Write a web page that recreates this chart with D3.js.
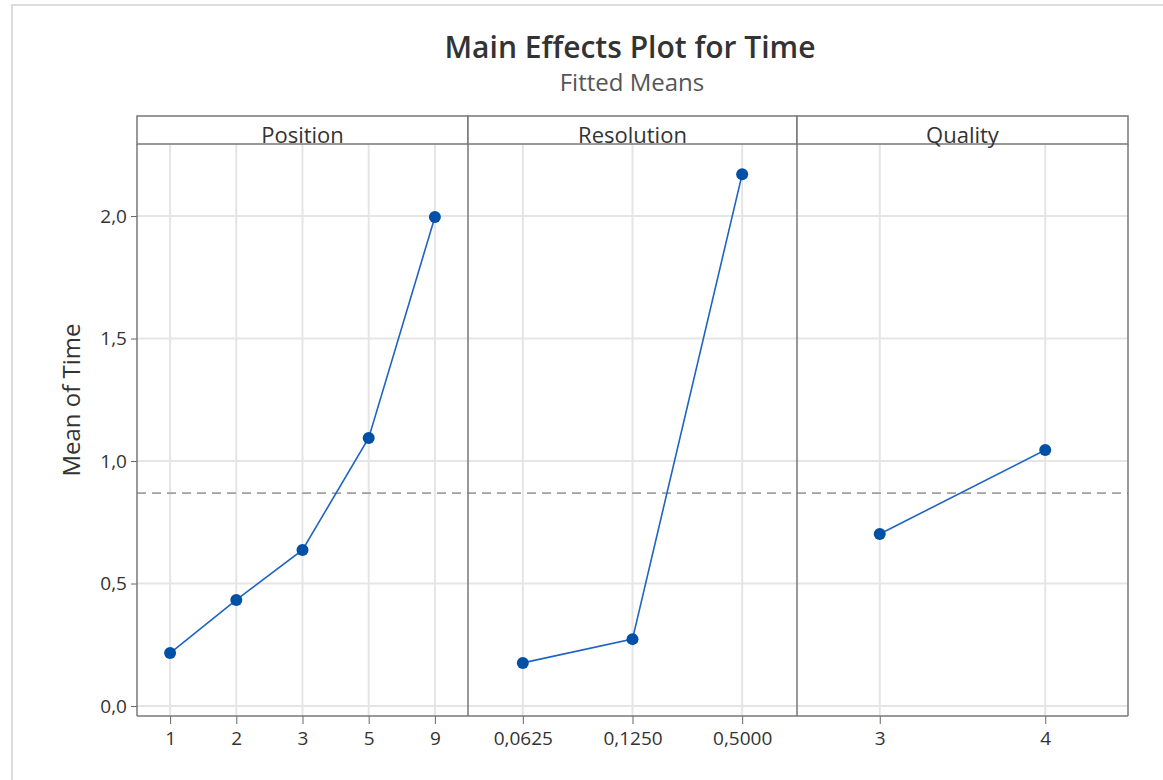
<!DOCTYPE html>
<html>
<head>
<meta charset="utf-8">
<script src="https://cdn.jsdelivr.net/npm/d3@7"></script>
<style>
  body { margin: 0; background: #fff; }
  text { font-family: "Open Sans", "Noto Sans", sans-serif; fill: #333; }
</style>
</head>
<body>
<div id="chart"></div>
<script>
// --- data ---
const factors = ["Position", "Resolution", "Quality"];
const positionLevels = ["1", "2", "3", "5", "9"];
const positionMeans = [0.216, 0.433, 0.637, 1.094, 1.996];
const resolutionLevels = ["0,0625", "0,1250", "0,5000"];
const resolutionMeans = [0.176, 0.273, 2.171];
const qualityLevels = ["3", "4"];
const qualityMeans = [0.702, 1.045];
const grandMean = 0.869;
const yTicks = [0, 0.5, 1.0, 1.5, 2.0];

const panels = [
  { name: factors[0], levels: positionLevels, means: positionMeans },
  { name: factors[1], levels: resolutionLevels, means: resolutionMeans },
  { name: factors[2], levels: qualityLevels, means: qualityMeans }
];

const W = 1163, H = 780;
const plot = { left: 137, right: 1128, top: 144, bottom: 716 };
const stripTop = 116;
const panelEdges = [137, 468, 797, 1128];

const comma = d3.formatLocale({ decimal: ",", thousands: ".", grouping: [3], currency: ["", ""] }).format(".1f");

const svg = d3.select("#chart").append("svg")
  .attr("width", W).attr("height", H);

// moldura externa clara
svg.append("rect")
  .attr("x", 12).attr("y", 5).attr("width", W + 20).attr("height", H + 20)
  .attr("fill", "none").attr("stroke", "#dcdcdc").attr("stroke-width", 2);

// títulos
svg.append("text")
  .attr("x", 630).attr("y", 58).attr("text-anchor", "middle")
  .style("font-size", "30px").attr("font-weight", 600)
  .text("Main Effects Plot for Time");
svg.append("text")
  .attr("x", 632).attr("y", 91).attr("text-anchor", "middle")
  .style("font-size", "24px").style("fill", "#555")
  .text("Fitted Means");

const y = d3.scaleLinear().domain([-0.0367, 2.294]).range([plot.bottom - 1, plot.top]);

// grade horizontal
svg.append("g").selectAll("line")
  .data(yTicks).join("line")
  .attr("x1", plot.left).attr("x2", plot.right)
  .attr("y1", d => y(d)).attr("y2", d => y(d))
  .attr("stroke", "#e5e5e5").attr("stroke-width", 2);

// eixo Y
const yAxis = svg.append("g")
  .attr("transform", `translate(${plot.left},0)`)
  .call(d3.axisLeft(y).tickValues(yTicks).tickFormat(comma).tickSize(6).tickPadding(4));
yAxis.select(".domain").remove();
yAxis.selectAll(".tick line").attr("stroke", "#666");
yAxis.selectAll(".tick text")
  .style("font-size", "19px").style("font-family", "'Open Sans', sans-serif").style("fill", "#333");

svg.append("text")
  .attr("transform", `translate(80,${400}) rotate(-90)`)
  .attr("text-anchor", "middle").style("font-size", "24px")
  .text("Mean of Time");

panels.forEach((p, i) => {
  const x0 = panelEdges[i], x1 = panelEdges[i + 1];
  const x = d3.scalePoint().domain(p.levels).range([x0, x1]).padding(0.5);
  const g = svg.append("g");

  // grade vertical
  g.selectAll(".vgrid").data(p.levels).join("line")
    .attr("x1", d => x(d)).attr("x2", d => x(d))
    .attr("y1", plot.top).attr("y2", plot.bottom)
    .attr("stroke", "#e5e5e5").attr("stroke-width", 2);

  // eixo X
  const xAxis = g.append("g")
    .attr("transform", `translate(0,${plot.bottom})`)
    .call(d3.axisBottom(x).tickSize(8).tickPadding(8));
  xAxis.select(".domain").remove();
  xAxis.selectAll(".tick line").attr("stroke", "#666");
  xAxis.selectAll(".tick text")
    .style("font-size", "19px").style("font-family", "'Open Sans', sans-serif").style("fill", "#333");

  // faixa do título do painel
  g.append("rect")
    .attr("x", x0).attr("y", stripTop).attr("width", x1 - x0).attr("height", plot.top - stripTop)
    .attr("fill", "#fff").attr("stroke", "#777").attr("stroke-width", 1.5);
  g.append("text")
    .attr("x", (x0 + x1) / 2).attr("y", plot.top - 1).attr("text-anchor", "middle")
    .style("font-size", "22px")
    .text(p.name);
});

// linha da média geral
svg.append("line")
  .attr("x1", plot.left).attr("x2", plot.right)
  .attr("y1", y(grandMean)).attr("y2", y(grandMean))
  .attr("stroke", "#a0a0a0").attr("stroke-width", 1.6).attr("stroke-dasharray", "9,6");

// divisórias e bordas
svg.append("g").selectAll("line")
  .data(panelEdges).join("line")
  .attr("x1", d => d).attr("x2", d => d)
  .attr("y1", plot.top).attr("y2", plot.bottom)
  .attr("stroke", "#777").attr("stroke-width", 1.5);
svg.append("line")
  .attr("x1", plot.left).attr("x2", plot.right)
  .attr("y1", plot.bottom).attr("y2", plot.bottom)
  .attr("stroke", "#777").attr("stroke-width", 1.5);

// linhas e pontos
panels.forEach((p, i) => {
  const x = d3.scalePoint().domain(p.levels).range([panelEdges[i], panelEdges[i + 1]]).padding(0.5);
  const pts = p.levels.map((l, j) => [x(l), y(p.means[j])]);
  svg.append("path")
    .attr("d", d3.line()(pts))
    .attr("fill", "none").attr("stroke", "#1f63c4").attr("stroke-width", 1.6);
  svg.append("g").selectAll("circle")
    .data(pts).join("circle")
    .attr("cx", d => d[0]).attr("cy", d => d[1]).attr("r", 6)
    .attr("fill", "#0050a5");
});
</script>
</body>
</html>
